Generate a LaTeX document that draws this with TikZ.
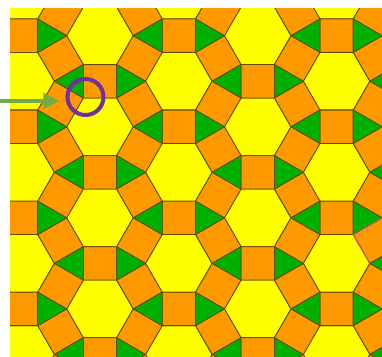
\documentclass[tikz,border=0pt]{standalone}
\usetikzlibrary{arrows.meta}

\definecolor{hexyellow}{RGB}{255,255,0}
\definecolor{sqorange}{RGB}{255,153,0}
\definecolor{trigreen}{RGB}{0,176,0}
\definecolor{edgebrown}{RGB}{95,75,5}
\definecolor{arrowgreen}{RGB}{112,173,71}
\definecolor{ringpurple}{RGB}{112,48,160}
\definecolor{hilite}{RGB}{255,70,170}

\begin{document}
\begin{tikzpicture}[x=1pt, y=-1pt, line join=round,
    tile/.style={draw=edgebrown, line width=0.8pt}]
  \useasboundingbox (0,0) rectangle (382,356);
  % rhombitrihexagonal tiling, clipped to the panel
  \begin{scope}
    \clip (10,8) rectangle (382,356);
    \foreach \i in {-2,...,5} {
      \foreach \j in {-5,...,5} {
        \begin{scope}[shift={({100+78.87*\i},{126.8+45.53*\i+91.07*\j})}]
          \draw[tile, fill=hexyellow] (0:33.33) -- (60:33.33) -- (120:33.33)
            -- (180:33.33) -- (240:33.33) -- (300:33.33) -- cycle;
          \foreach \k in {0,60,...,300} {
            \draw[tile, fill=sqorange] (\k:33.33) -- ({\k+60}:33.33)
              -- ++({\k+30}:33.33) -- ++({\k-60}:33.33) -- cycle;
            \draw[tile, fill=trigreen] (\k:33.33) -- ++({\k-30}:33.33)
              -- ++({\k+90}:33.33) -- cycle;
          }
        \end{scope}
      }
    }
    % thin pink outline on one square at the right
    \begin{scope}[shift={(336.61,263.39)}]
      \draw[hilite, line width=0.6pt] (0:33.33) -- (-60:33.33) -- ++(-30:33.33);
    \end{scope}
  \end{scope}
  % pointer to the marked vertex
  \node[circle, draw=ringpurple, line width=4pt, minimum size=36pt, inner sep=0pt] (spot) at (85.5,97) {};
  \coordinate (tail) at (0,101);
  \coordinate (tip) at (59.3,101);
  \draw[arrowgreen, line width=4.3pt, -{Triangle[length=16pt,width=15pt]}] (tail) -- (tip);
\end{tikzpicture}
\end{document}
